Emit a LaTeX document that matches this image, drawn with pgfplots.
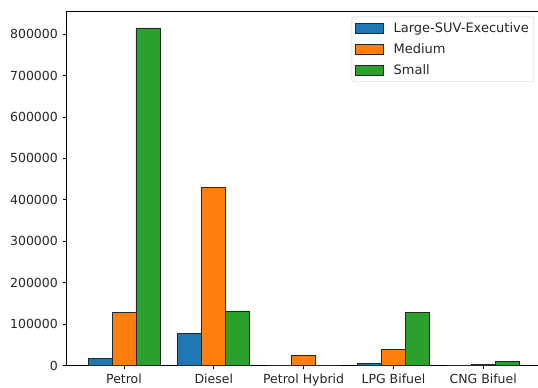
\documentclass[border=0pt]{standalone}
\usepackage{fontspec}
\setmainfont{DejaVu Sans}
\usepackage{pgfplots}
\pgfplotsset{compat=1.18}
\definecolor{tabblue}{HTML}{1F77B4}
\definecolor{taborange}{HTML}{FF7F0E}
\definecolor{tabgreen}{HTML}{2CA02C}
\begin{document}
\fontsize{12.5}{15}\selectfont
\begin{tikzpicture}
\path[use as bounding box] (-66.7pt,-22.3pt) rectangle (471.3pt,365.7pt);
\clip (-66.7pt,-22.3pt) rectangle (471.3pt,365.7pt);
\begin{axis}[
  at={(0,0)}, anchor=south west,
  scale only axis,
  width=473.8pt, height=354.7pt,
  xmin=-0.638, xmax=4.638,
  ymin=0, ymax=855500,
  xtick={0,1,2,3,4},
  xticklabels={Petrol,Diesel,Petrol Hybrid,LPG Bifuel,CNG Bifuel},
  ytick={0,100000,200000,300000,400000,500000,600000,700000,800000},
  scaled y ticks=false,
  yticklabel style={/pgf/number format/fixed,/pgf/number format/1000 sep={}},
  /pgf/number format/assume math mode=true,
  tick label style={font=\fontsize{12.5}{15}\selectfont, text=black!85},
  tick align=outside, xtick pos=left, ytick pos=left,
  major tick length=3.5pt,
  every tick/.style={black, line width=0.8pt},
  axis line style={black, line width=0.8pt},
  xticklabel style={yshift=0pt},
  yticklabel style={xshift=-1pt},
  bar width=0.267,
  legend style={at={(axis description cs:0.9863,0.984)}, anchor=north east,
    draw=black!20, rounded corners=2pt, fill=white,
    font=\fontsize{13}{15}\selectfont, text=black!85,
    inner xsep=3pt, inner ysep=3.5pt,
    row sep=5.2pt},
  legend cell align=left,
  legend image code/.code={%
    \draw[#1, sharp corners] (0pt,-5pt) rectangle (28pt,5pt);
    \path (0pt,0pt) (36pt,0pt);},
]
\addplot[ybar, bar shift=-0.267, fill=tabblue, draw=black!85, line width=0.8pt]
  coordinates {(0,17800) (1,78000) (2,1500) (3,5000) (4,300)};
\addplot[ybar, bar shift=0, fill=taborange, draw=black!85, line width=0.8pt]
  coordinates {(0,127800) (1,430000) (2,25800) (3,38600) (4,2000)};
\addplot[ybar, bar shift=0.267, fill=tabgreen, draw=black!85, line width=0.8pt]
  coordinates {(0,814500) (1,132000) (2,1500) (3,128500) (4,11000)};
\legend{Large-SUV-Executive,Medium,Small}
\end{axis}
\end{tikzpicture}
\end{document}
